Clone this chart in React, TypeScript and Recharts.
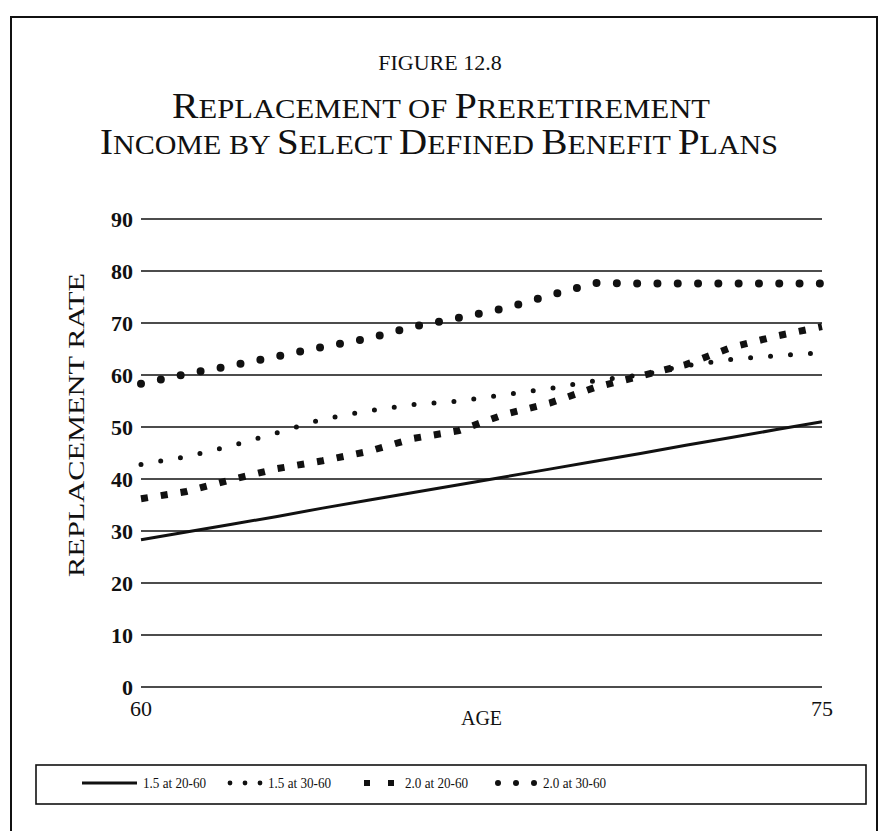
import React from 'react';
import { LineChart, Line, XAxis, YAxis, CartesianGrid, Legend } from 'recharts';

// Age at retirement (x axis)
const ages = [60, 61, 62, 63, 64, 65, 66, 67, 68, 69, 70, 71, 72, 73, 74, 75];

// Replacement rate (%) by plan formula and service period
const plan15At2060 = [28.3, 29.8, 31.3, 32.8, 34.4, 35.9, 37.4, 38.9, 40.4, 41.9, 43.4, 44.9, 46.5, 48.0, 49.5, 51.0];
const plan15At3060 = [42.8, 44.3, 46.4, 48.9, 51.5, 53.1, 54.3, 55.0, 56.2, 57.4, 58.9, 60.0, 61.8, 63.0, 63.7, 64.3];
const plan20At2060 = [36.2, 37.6, 39.9, 42.0, 43.5, 45.3, 47.8, 49.3, 52.4, 54.6, 57.6, 59.8, 62.0, 65.3, 67.5, 69.3];
const plan20At3060 = [58.3, 60.2, 61.8, 63.6, 65.4, 67.0, 69.3, 71.0, 72.8, 75.3, 77.7, 77.6, 77.6, 77.6, 77.6, 77.6];

const seriesNames = ['1.5 at 20-60', '1.5 at 30-60', '2.0 at 20-60', '2.0 at 30-60'];
const yTicks = [0, 10, 20, 30, 40, 50, 60, 70, 80, 90];
const xTicks = [60, 75];

const data = ages.map((age, i) => ({
  age,
  p15a: plan15At2060[i],
  p15b: plan15At3060[i],
  p20a: plan20At2060[i],
  p20b: plan20At3060[i],
}));

const SERIF = '"Liberation Serif", "Times New Roman", Times, serif';
const INK = '#111';

type LineStyle = {
  key: string;
  name: string;
  width: number;
  dash?: string;
  cap: 'butt' | 'round' | 'square';
};

const styles: LineStyle[] = [
  { key: 'p15a', name: seriesNames[0], width: 3, cap: 'butt' },
  { key: 'p15b', name: seriesNames[1], width: 5, dash: '0 20', cap: 'round' },
  { key: 'p20a', name: seriesNames[2], width: 7, dash: '7 13', cap: 'butt' },
  { key: 'p20b', name: seriesNames[3], width: 8, dash: '0 20.3', cap: 'round' },
];

// Title with small caps: capital initial letters large, remaining letters smaller.
function SmallCapsLine({ words, x, y, big, small, length }: { words: string[]; x: number; y: number; big: number; small: number; length: number }) {
  const parts: React.ReactNode[] = [];
  words.forEach((w, wi) => {
    const isCap = w[0] === w[0].toUpperCase();
    if (wi > 0) parts.push(<tspan key={`s${wi}`} fontSize={small}>{' '}</tspan>);
    if (isCap) {
      parts.push(<tspan key={`b${wi}`} fontSize={big}>{w[0]}</tspan>);
      parts.push(<tspan key={`r${wi}`} fontSize={small}>{w.slice(1).toUpperCase()}</tspan>);
    } else {
      parts.push(<tspan key={`r${wi}`} fontSize={small}>{w.toUpperCase()}</tspan>);
    }
  });
  return (
    <text x={x} y={y} textAnchor="middle" fontFamily={SERIF} fill={INK} textLength={length} lengthAdjust="spacingAndGlyphs">
      {parts}
    </text>
  );
}

function LegendBox() {
  const h = 41;
  const cy = 19;
  const txt = (x: number, s: string) => (
    <text x={x} y={cy + 5} fontFamily={SERIF} fontSize={15} fill={INK} textLength={63} lengthAdjust="spacingAndGlyphs">{s}</text>
  );
  return (
    <svg width={832} height={h} style={{ display: 'block' }}>
      <rect x={1} y={1} width={830} height={h - 2} fill="white" stroke={INK} strokeWidth={1.6} />
      <line x1={47} x2={102} y1={cy} y2={cy} stroke={INK} strokeWidth={3} />
      {txt(108, seriesNames[0])}
      {[195, 210, 225].map((cx) => <circle key={cx} cx={cx} cy={cy} r={2.4} fill={INK} />)}
      {txt(233, seriesNames[1])}
      {[332, 356].map((cx) => <rect key={cx} x={cx - 3} y={cy - 3} width={6} height={6} fill={INK} />)}
      {txt(370, seriesNames[2])}
      {[463, 481, 499].map((cx) => <circle key={cx} cx={cx} cy={cy} r={3} fill={INK} />)}
      {txt(508, seriesNames[3])}
    </svg>
  );
}

// Rotated y-axis title, centred a little above the middle of the value axis
function YAxisTitle(props: any) {
  const vb = props.viewBox || { x: 81, y: 219, width: 60, height: 468 };
  const cx = vb.x - 4;
  const cy = vb.y + vb.height * 0.44;
  return (
    <text
      x={cx}
      y={cy}
      transform={`rotate(-90 ${cx} ${cy})`}
      textAnchor="middle"
      dominantBaseline="central"
      fontFamily={SERIF}
      fontSize={23}
      fill={INK}
      textLength={304}
      lengthAdjust="spacingAndGlyphs"
    >
      REPLACEMENT RATE
    </text>
  );
}

export default function App() {
  return (
    <div style={{ position: 'absolute', left: 0, top: 0, width: 881, height: 831, overflow: 'hidden', background: 'white' }}>
      {/* page frame */}
      <div style={{ position: 'absolute', left: 10, top: 16, width: 864, height: 840, border: `2px solid ${INK}` }} />

      <svg width={881} height={200} style={{ position: 'absolute', left: 0, top: 0 }}>
        <text x={440} y={70} textAnchor="middle" fontFamily={SERIF} fontSize={22} fill={INK}>FIGURE 12.8</text>
        <SmallCapsLine words={['Replacement', 'of', 'Preretirement']} x={441} y={118} big={35} small={27} length={538} />
        <SmallCapsLine words={['Income', 'by', 'Select', 'Defined', 'Benefit', 'Plans']} x={439} y={154} big={35} small={27} length={678} />
      </svg>

      <div style={{ position: 'absolute', left: 0, top: 0 }}>
        <LineChart width={881} height={831} data={data} margin={{ top: 219, right: 59, bottom: 63, left: 81 }}>
          <CartesianGrid vertical={false} stroke={INK} strokeWidth={1.6} strokeOpacity={1} />
          <XAxis
            dataKey="age"
            type="number"
            domain={[60, 75]}
            ticks={xTicks}
            axisLine={false}
            tickLine={false}
            tickMargin={7}
            tick={{ fontFamily: SERIF, fontSize: 22, fill: INK }}
            height={40}
            label={{ value: 'AGE', position: 'insideBottom', offset: 2, fontFamily: SERIF, fontSize: 20, fill: INK }}
          />
          <YAxis
            type="number"
            domain={[0, 90]}
            ticks={yTicks}
            axisLine={false}
            tickLine={false}
            width={60}
            tick={{ fontFamily: SERIF, fontSize: 22, fontWeight: 700, fill: INK }}
            label={<YAxisTitle />}
          />
          {styles.map((s) => (
            <Line
              key={s.key}
              dataKey={s.key}
              name={s.name}
              type="linear"
              stroke={INK}
              strokeWidth={s.width}
              strokeDasharray={s.dash}
              strokeLinecap={s.cap}
              dot={false}
              activeDot={false}
              isAnimationActive={false}
            />
          ))}
          <Legend
            content={() => <LegendBox />}
            wrapperStyle={{ position: 'absolute', left: 35, top: 764, width: 832, bottom: 'auto' }}
          />
        </LineChart>
      </div>
    </div>
  );
}
